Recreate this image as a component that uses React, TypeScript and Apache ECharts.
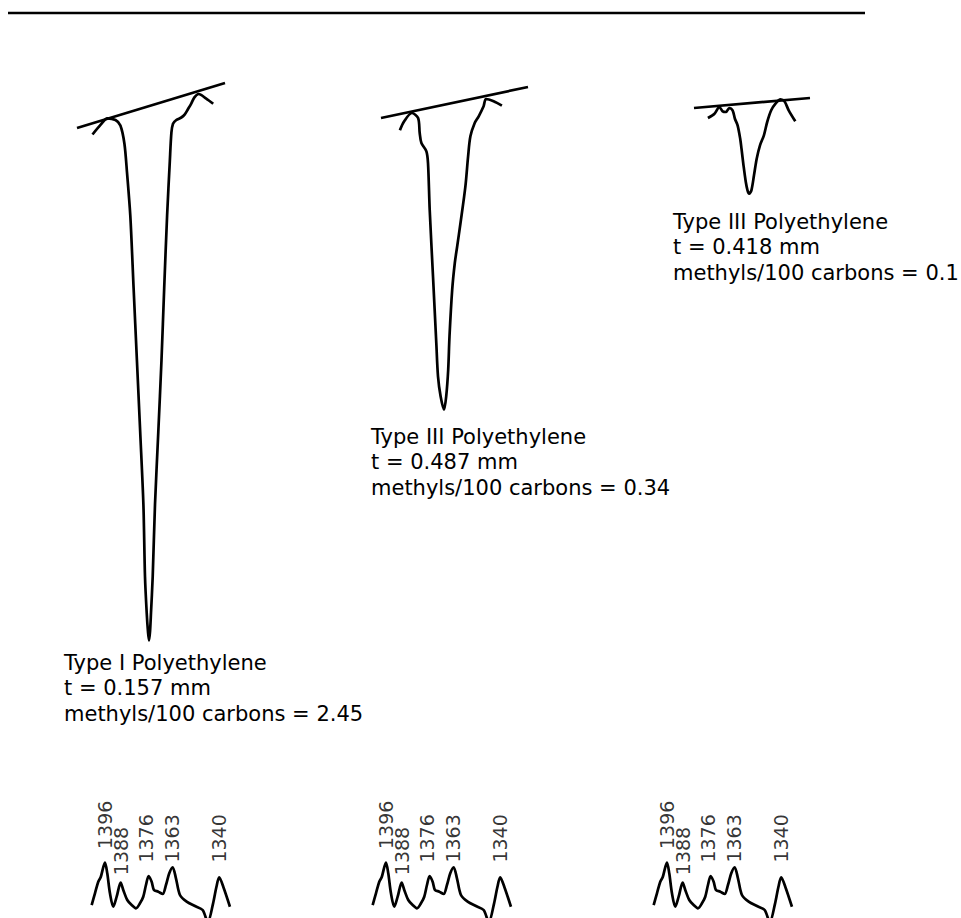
import React, { useEffect, useRef } from "react";
import * as echarts from "echarts";

// ---- Traced curves of the three large absorption bands (figure units) ----
const RULE = [[8, 13], [865, 13]];

const PEAK_TYPE_I = [
  [92.5, 134.5], [100.7, 124.7], [107.3, 118.3], [115.5, 120], [120.4, 125.5],
  [124.4, 143.5], [127, 172.4], [130.3, 215.7], [133.6, 288], [136.9, 360],
  [140.2, 432], [143.4, 504.5], [145, 576.7], [146.7, 612.8], [148, 632], [149, 640.5],
  [150, 632], [151, 612.8], [152.7, 576.7], [155, 504.5], [158.3, 432], [161.5, 360],
  [164.2, 288], [167.1, 215.7], [169.8, 161.6], [171.4, 132.7], [173, 123.7],
  [176.3, 120], [181.3, 117.5], [184.6, 114.6], [187.9, 109.2], [191.1, 103.8],
  [194.4, 97.3], [198.7, 94], [205.9, 98.4], [213.2, 103.8],
];
const BASE_TYPE_I = [[77, 128], [225, 83]];

const PEAK_TYPE_III_A = [
  [399.9, 130.3], [404.2, 121.3], [411.8, 113], [418.1, 118], [419.7, 133],
  [421.4, 143], [426.4, 151.3], [428, 163], [429.7, 209.7], [433, 276.3],
  [436.3, 343], [438, 376.3], [440.6, 396.3], [444, 409.7], [446.2, 396.3],
  [448.2, 369.7], [449.5, 336.3], [452.2, 289.7], [454.8, 263], [457.2, 246.3],
  [460.5, 223], [465.4, 186.3], [468.1, 156.3], [470.4, 136.3], [474.7, 123],
  [478.7, 116.3], [483.6, 106.3], [486, 99], [493.6, 101.3], [501.9, 105.7],
];
const BASE_TYPE_III_A = [[381, 118], [528, 87]];

const PEAK_TYPE_III_B = [
  [707.9, 118], [714.5, 113.7], [719.4, 107], [722.7, 111.3], [726, 112],
  [729.3, 108], [732.6, 110.3], [734.9, 118.7], [737.6, 125.3], [740.2, 138.7],
  [741.5, 148.7], [743.5, 165.3], [745.8, 182], [747.5, 190.3], [749.1, 193.7],
  [751.4, 190.3], [754, 175.3], [756.7, 158.7], [760, 145.3], [763.9, 135.3],
  [767.2, 122], [771.2, 110.3], [775.5, 103.7], [780.5, 99.3], [784.4, 101.3],
  [788.7, 110.3], [795.3, 121.3],
];
const BASE_TYPE_III_B = [[694, 108], [810, 98]];

const SAMPLE_TEXT = [
  ["Type I Polyethylene", "t = 0.157 mm", "methyls/100 carbons = 2.45"],
  ["Type III Polyethylene", "t = 0.487 mm", "methyls/100 carbons = 0.34"],
  ["Type III Polyethylene", "t = 0.418 mm", "methyls/100 carbons = 0.1"],
];

// ---- Reference spectrum (wavenumber cm-1, relative intensity) ----
const REF_WN = [
  1402.52, 1400.9, 1399.28, 1398.11, 1396, 1394.87, 1393.55, 1391.93, 1390.26,
  1388.3, 1387.03, 1385.07, 1382.91, 1380.8, 1378.84, 1377.23, 1375.9, 1374.58,
  1373.11, 1371.98, 1369.87, 1367.72, 1366.1, 1364.48, 1362.81, 1361.2, 1359.24,
  1355.95, 1351.88, 1348.11, 1345.6, 1342.99, 1341.35, 1340.0, 1338.01, 1334.73,
];
const REF_I = [
  0.191, 0.363, 0.534, 0.599, 0.813, 0.657, 0.363, 0.166, 0.313,
  0.519, 0.412, 0.265, 0.191, 0.143, 0.216, 0.313, 0.485, 0.618,
  0.534, 0.412, 0.387, 0.353, 0.485, 0.657, 0.746, 0.584, 0.338,
  0.24, 0.176, 0.118, -0.06, 0.216, 0.46, 0.599, 0.46, 0.166,
];
const BAND_LABELS = ["1396", "1388", "1376", "1363", "1340"];
const BAND_WN = [1396, 1388, 1376, 1363, 1340];
const BAND_LABEL_Y = [1.37, 0.985, 1.17, 1.17, 1.17];

const FONT = '"DejaVu Sans", Verdana, sans-serif';

export default function App() {
  const divRef = useRef<HTMLDivElement>(null);
  useEffect(() => {
    document.body.style.margin = "0";
    if (!divRef.current) return;
    const chart = echarts.init(divRef.current, undefined, { renderer: "svg" });

    const lineStyle = { color: "#000", width: 2.7 };
    const mkLine = (data: number[][], smooth: number | boolean, gi = 0) => ({
      type: "line",
      xAxisIndex: gi,
      yAxisIndex: gi,
      data,
      smooth,
      showSymbol: false,
      symbol: "none",
      clip: false,
      silent: true,
      lineStyle,
    });

    const smallLefts = [86.6, 367.6, 648.6];
    const grids: any[] = [{ left: 0, top: 0, width: 961, height: 918 }];
    const xAxes: any[] = [{ type: "value", min: 0, max: 961, show: false, gridIndex: 0 }];
    const yAxes: any[] = [{ type: "value", min: 0, max: 918, inverse: true, show: false, gridIndex: 0 }];
    smallLefts.forEach((l, i) => {
      grids.push({ left: l, top: 782, width: 153, height: 136 });
      xAxes.push({ type: "value", min: 1330, max: 1405, inverse: true, show: false, gridIndex: i + 1 });
      yAxes.push({ type: "value", min: 0, max: 2, show: false, gridIndex: i + 1 });
    });

    const series: any[] = [
      mkLine(RULE, false),
      mkLine(PEAK_TYPE_I, 0.3),
      mkLine(BASE_TYPE_I, false),
      mkLine(PEAK_TYPE_III_A, 0.3),
      mkLine(BASE_TYPE_III_A, false),
      mkLine(PEAK_TYPE_III_B, 0.3),
      mkLine(BASE_TYPE_III_B, false),
    ];
    const refSpectrum = REF_WN.map((w, k) => [w, REF_I[k]]);
    smallLefts.forEach((_, i) => {
      series.push(mkLine(refSpectrum, 0.3, i + 1));
      series.push({
        type: "scatter",
        xAxisIndex: i + 1,
        yAxisIndex: i + 1,
        symbolSize: 1,
        clip: false,
        silent: true,
        itemStyle: { color: "rgba(0,0,0,0)" },
        data: BAND_LABELS.map((n, k) => ({ name: n, value: [BAND_WN[k], BAND_LABEL_Y[k]] })),
        label: {
          show: true,
          position: "inside",
          formatter: "{b}",
          rotate: 90,
          align: "center",
          verticalAlign: "middle",
          fontSize: 19,
          fontFamily: FONT,
          color: "#000",
          textBorderWidth: 0,
        },
      });
    });

    const textPos = [
      [64, 650],
      [371, 424],
      [673, 209],
    ];
    const graphic = SAMPLE_TEXT.map((lines, i) => ({
      type: "text",
      left: textPos[i][0],
      top: textPos[i][1],
      style: {
        text: lines.join("\n"),
        fontSize: 21,
        fontFamily: FONT,
        lineHeight: 25.5,
        fill: "#000",
      },
    }));

    chart.setOption({
      animation: false,
      backgroundColor: "#fff",
      grid: grids,
      xAxis: xAxes,
      yAxis: yAxes,
      series,
      graphic,
    });
    return () => chart.dispose();
  }, []);
  return <div ref={divRef} style={{ width: 961, height: 918 }} />;
}
